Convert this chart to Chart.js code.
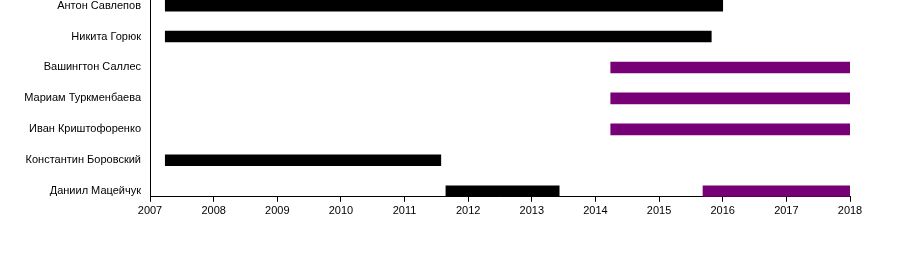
<!DOCTYPE html>
<html>
<head>
<meta charset="utf-8">
<script src="https://cdn.jsdelivr.net/npm/chart.js@4/dist/chart.umd.min.js"></script>
<style>
  body { margin: 0; background: #fff; }
  #wrap { width: 900px; height: 270px; position: relative; }
</style>
</head>
<body>
<div id="wrap"><canvas id="timelineChart"></canvas></div>
<script>
// ========== Data ==========
const names = [
  'Антон Савлепов',
  'Никита Горюк',
  'Вашингтон Саллес',
  'Мариам Туркменбаева',
  'Иван Криштофоренко',
  'Константин Боровский',
  'Даниил Мацейчук'
];

// past periods (black): row index, start, end
const pastRows   = [0, 1, 5, 6];
const pastStart  = [2007.24, 2007.24, 2007.24, 2011.65];
const pastEnd    = [2016.0, 2015.82, 2011.57, 2013.43];

// current periods (purple)
const nowRows    = [2, 3, 4, 6];
const nowStart   = [2014.24, 2014.24, 2014.24, 2015.69];
const nowEnd     = [2018, 2018, 2018, 2018];

const yearTicks = [2007, 2008, 2009, 2010, 2011, 2012, 2013, 2014, 2015, 2016, 2017, 2018];

const toPoints = (rows, starts, ends) =>
  rows.map((r, i) => ({ x: [starts[i], ends[i]], y: r }));

const ctx = document.getElementById('timelineChart').getContext('2d');

new Chart(ctx, {
  type: 'bar',
  data: {
    datasets: [
      {
        data: toPoints(pastRows, pastStart, pastEnd),
        backgroundColor: '#000000',
        barThickness: 11,
        grouped: false
      },
      {
        data: toPoints(nowRows, nowStart, nowEnd),
        backgroundColor: '#780077',
        barThickness: 11,
        grouped: false
      }
    ]
  },
  options: {
    indexAxis: 'y',
    responsive: true,
    maintainAspectRatio: false,
    animation: false,
    layout: { padding: { top: 0, right: 50, bottom: 49, left: 0 } },
    plugins: {
      legend: { display: false },
      tooltip: { enabled: false }
    },
    scales: {
      x: {
        type: 'linear',
        min: yearTicks[0],
        max: yearTicks[yearTicks.length - 1],
        afterBuildTicks: s => { s.ticks = yearTicks.map(v => ({ value: v })); },
        grid: { drawOnChartArea: false, drawTicks: true, tickLength: 5, color: '#000' },
        border: { color: '#000', width: 1 },
        ticks: {
          color: '#000',
          padding: 3,
          maxRotation: 0,
          font: { family: 'Liberation Sans, Arial, sans-serif', size: 11 },
          callback: v => String(v)
        }
      },
      y: {
        type: 'linear',
        reverse: true,
        offset: false,
        min: -0.18,
        max: names.length - 1 + 0.18,
        afterBuildTicks: s => { s.ticks = names.map((n, i) => ({ value: i })); },
        afterFit: s => { s.width = 150; s.paddingTop = 0; s.paddingBottom = 0; },
        grid: { display: false },
        border: { color: '#000', width: 1 },
        ticks: {
          color: '#000',
          padding: 1,
          font: { family: 'Liberation Sans, Arial, sans-serif', size: 11 },
          callback: v => names[v] || ''
        }
      }
    }
  }
});
</script>
</body>
</html>
